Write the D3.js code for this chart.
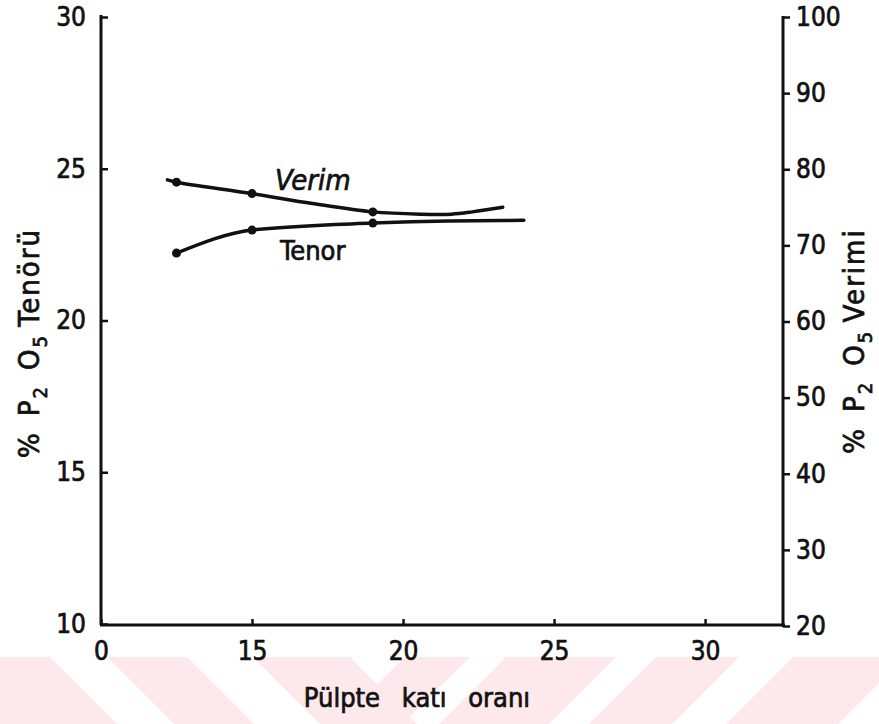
<!DOCTYPE html>
<html>
<head>
<meta charset="utf-8">
<script src="https://cdn.jsdelivr.net/npm/d3@7"></script>
<style>
  html, body { margin: 0; padding: 0; background: #fff; }
  svg { display: block; }
  text { font-family: "DejaVu Sans Condensed", "Liberation Sans Narrow", "DejaVu Sans", sans-serif; font-stretch: condensed; fill: #111; stroke: #111; stroke-width: 0.7px; }
</style>
</head>
<body>
<script>
// ---- data ----
const xTickValues = [10, 15, 20, 25, 30];          // axis position
const xTickLabels = ["0", "15", "20", "25", "30"]; // printed labels (broken axis: "0" at start)
const leftTicks = [10, 15, 20, 25, 30];
const rightTicks = [20, 30, 40, 50, 60, 70, 80, 90, 100];

// measured points (Pülpte katı oranı)
const pulpPoints = [12.5, 15, 19];
const verimPoints = [78.3, 76.8, 74.4];   // % P2O5 Verimi (right axis)
const tenorPoints = [22.22, 22.98, 23.21]; // % P2O5 Tenörü (left axis)

// hand-drawn fitted curves
const verimCurveX = [12.2, 12.5, 15.0, 17.0, 19.0, 20.6, 21.6, 22.3, 23.3];
const verimCurveY = [78.6, 78.3, 76.8, 75.5, 74.4, 74.1, 74.1, 74.4, 75.0];
const tenorCurveX = [12.5, 15.0, 19.0, 21.5, 24.0];
const tenorCurveY = [22.22, 22.98, 23.21, 23.28, 23.30];

const W = 879, H = 724;
const svg = d3.select("body").append("svg").attr("width", W).attr("height", H);

// ---- watermark band (decoration) ----
const wm = svg.append("g").attr("fill", "#fde8eb");
const T = 657, B = 724, h = B - T;
const back = [[-80, 50], [107, 187], [253, 350]];       // "\" stripes, top x ranges
const fwd = [[405, 470], [506, 616], [656, 739], [793, 905]]; // "/" stripes
back.forEach(([a, b]) => wm.append("polygon").attr("points", [[a, T], [b, T], [b + h, B], [a + h, B]].join(" ")));
fwd.forEach(([a, b]) => wm.append("polygon").attr("points", [[a, T], [b, T], [b - h, B], [a - h, B]].join(" ")));

// ---- scales ----
const x = d3.scaleLinear().domain([10, 32.58]).range([101, 783]);
const yL = d3.scaleLinear().domain([10, 30]).range([624, 17]);
const yR = d3.scaleLinear().domain([20, 100]).range([626, 17]);

const FS = 26;

// ---- axes ----
const gL = svg.append("g").attr("transform", "translate(101,0)")
  .call(d3.axisLeft(yL).tickValues(leftTicks).tickSizeInner(-7).tickSizeOuter(0).tickPadding(15));
const gR = svg.append("g").attr("transform", "translate(783,0)")
  .call(d3.axisRight(yR).tickValues(rightTicks).tickSizeInner(7).tickSizeOuter(0).tickPadding(6));
const gB = svg.append("g").attr("transform", "translate(0,625)")
  .call(d3.axisBottom(x).tickValues(xTickValues).tickFormat((d, i) => xTickLabels[i])
    .tickSizeInner(-6).tickSizeOuter(0).tickPadding(17));

[gL, gR, gB].forEach(g => {
  g.select(".domain").attr("stroke", "#111").attr("stroke-width", 3);
  g.selectAll(".tick line").attr("stroke", "#111").attr("stroke-width", 2.5);
  g.selectAll(".tick text").style("font-size", FS + "px").attr("fill", "#111");
});
gL.select(".domain").attr("d", "M0,15V625");
gR.select(".domain").attr("d", "M0,16V627");
gB.select(".domain").attr("d", "M100,0H785");

// ---- curves ----
const lineR = d3.line().x(d => x(d[0])).y(d => yR(d[1])).curve(d3.curveCatmullRom.alpha(0.5));
const lineL = d3.line().x(d => x(d[0])).y(d => yL(d[1])).curve(d3.curveMonotoneX);

svg.append("path").datum(d3.zip(verimCurveX, verimCurveY)).attr("d", lineR)
  .attr("fill", "none").attr("stroke", "#111").attr("stroke-width", 3.5).attr("stroke-linecap", "round");
svg.append("path").datum(d3.zip(tenorCurveX, tenorCurveY)).attr("d", lineL)
  .attr("fill", "none").attr("stroke", "#111").attr("stroke-width", 3.5).attr("stroke-linecap", "round");

svg.append("g").selectAll("circle").data(d3.zip(pulpPoints, verimPoints)).join("circle")
  .attr("cx", d => x(d[0])).attr("cy", d => yR(d[1])).attr("r", 4.5).attr("fill", "#111");
svg.append("g").selectAll("circle").data(d3.zip(pulpPoints, tenorPoints)).join("circle")
  .attr("cx", d => x(d[0])).attr("cy", d => yL(d[1])).attr("r", 4.5).attr("fill", "#111");

// ---- series labels ----
svg.append("text").attr("x", 275).attr("y", 190).style("font-size", "29px").style("font-style", "italic").text("Verim");
svg.append("text").attr("x", 280).attr("y", 260).style("font-size", "27px").text("Tenor");

// ---- axis titles ----
function title(g, main) {
  const t = g.append("text").attr("text-anchor", "middle").style("font-size", "29px").style("letter-spacing", "2px");
  t.append("tspan").text("%\u2002P");
  t.append("tspan").attr("dy", 8).style("font-size", "20px").text("2");
  t.append("tspan").attr("dy", -8).text("\u2002O");
  t.append("tspan").attr("dy", 8).style("font-size", "20px").text("5");
  t.append("tspan").attr("dy", -8).text("\u2009" + main);
  return t;
}
title(svg.append("g").attr("transform", "translate(39,343) rotate(-90)"), "Tenörü");
title(svg.append("g").attr("transform", "translate(864,341) rotate(-90)"), "Verimi");

svg.append("text").attr("x", 417).attr("y", 707).attr("text-anchor", "middle")
  .style("font-size", "27px").style("word-spacing", "14px").text("Pülpte katı oranı");
</script>
</body>
</html>
